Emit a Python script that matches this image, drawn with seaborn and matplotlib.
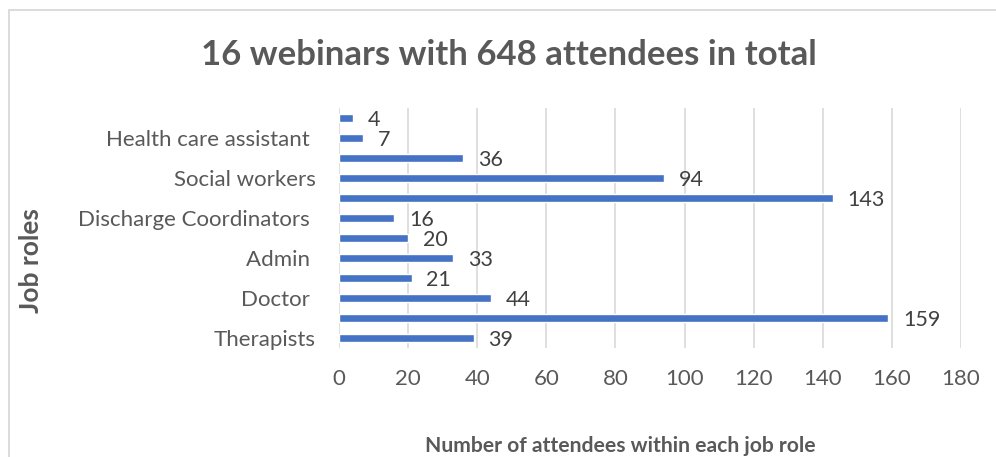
import pandas as pd
import matplotlib.pyplot as plt
import seaborn as sns
from matplotlib.patches import Rectangle

# bars from top to bottom; Excel shows only every other axis label
slots = ["r01", "r02", "r03", "r04", "r05", "r06",
         "r07", "r08", "r09", "r10", "r11", "r12"]
tick_labels = ["", "Health care assistant ", "", "Social workers", "",
               "Discharge Coordinators ", "", "Admin ", "", "Doctor ", "",
               "Therapists"]
attendees = [4, 7, 36, 94, 143, 16, 20, 33, 21, 44, 159, 39]

x_ticks = [0, 20, 40, 60, 80, 100, 120, 140, 160, 180]

TITLE = "16 webinars with 648 attendees in total"
XLABEL = "Number of attendees within each job role"
YLABEL = "Job roles"

BAR_COLOR = "#4472C4"
TEXT_COLOR = "#595959"
GRID_COLOR = "#D9D9D9"

sns.set_theme(style="white")
plt.rcParams["font.family"] = ["Lato", "DejaVu Sans"]

df = pd.DataFrame({"slot": slots, "attendees": attendees})

fig = plt.figure(figsize=(9.96, 4.57), dpi=100)
ax = fig.add_axes([339 / 996, 1 - 348 / 457, 622 / 996, 240 / 457])

sns.barplot(data=df, x="attendees", y="slot", orient="h", color=BAR_COLOR,
            width=0.36, saturation=1, ax=ax)

ax.set_xlim(0, 180)
ax.set_ylim(11.5, -0.5)
ax.set_xticks(x_ticks)
ax.set_yticks(range(len(slots)))
ax.set_yticklabels(tick_labels)
ax.xaxis.grid(True, color=GRID_COLOR, linewidth=1.2)
ax.set_axisbelow(True)
for s in ax.spines.values():
    s.set_visible(False)
ax.tick_params(axis="y", length=0, pad=17, labelsize=16, labelcolor=TEXT_COLOR)
ax.tick_params(axis="x", length=0, pad=15, labelsize=16, labelcolor=TEXT_COLOR)

for i, v in enumerate(attendees):
    ax.annotate(str(v), (v, i), xytext=(10.5, -1.5), textcoords="offset points",
                va="center", ha="left", fontsize=15.5, color="#404040")

ax.set_xlabel("")
ax.set_ylabel("")
fig.text(620 / 996, 1 - 446 / 457, XLABEL, ha="center", va="center",
         fontsize=15.2, fontweight="bold", color=TEXT_COLOR)
fig.text(31 / 996, 1 - 261 / 457, YLABEL, rotation=90, ha="center",
         va="center", fontsize=19, fontweight="bold", color=TEXT_COLOR)

fig.text(509 / 996, 1 - 55 / 457, TITLE, ha="center", va="center",
         fontsize=25, fontweight="bold", color=TEXT_COLOR)

# chart frame like the Excel chart area
fig.patches.append(Rectangle((9 / 996, -0.1), 1.2, 1 - 10 / 457 + 0.1,
                             transform=fig.transFigure, fill=False,
                             edgecolor=GRID_COLOR, linewidth=1.3))

fig.savefig("out.png", dpi=100)
